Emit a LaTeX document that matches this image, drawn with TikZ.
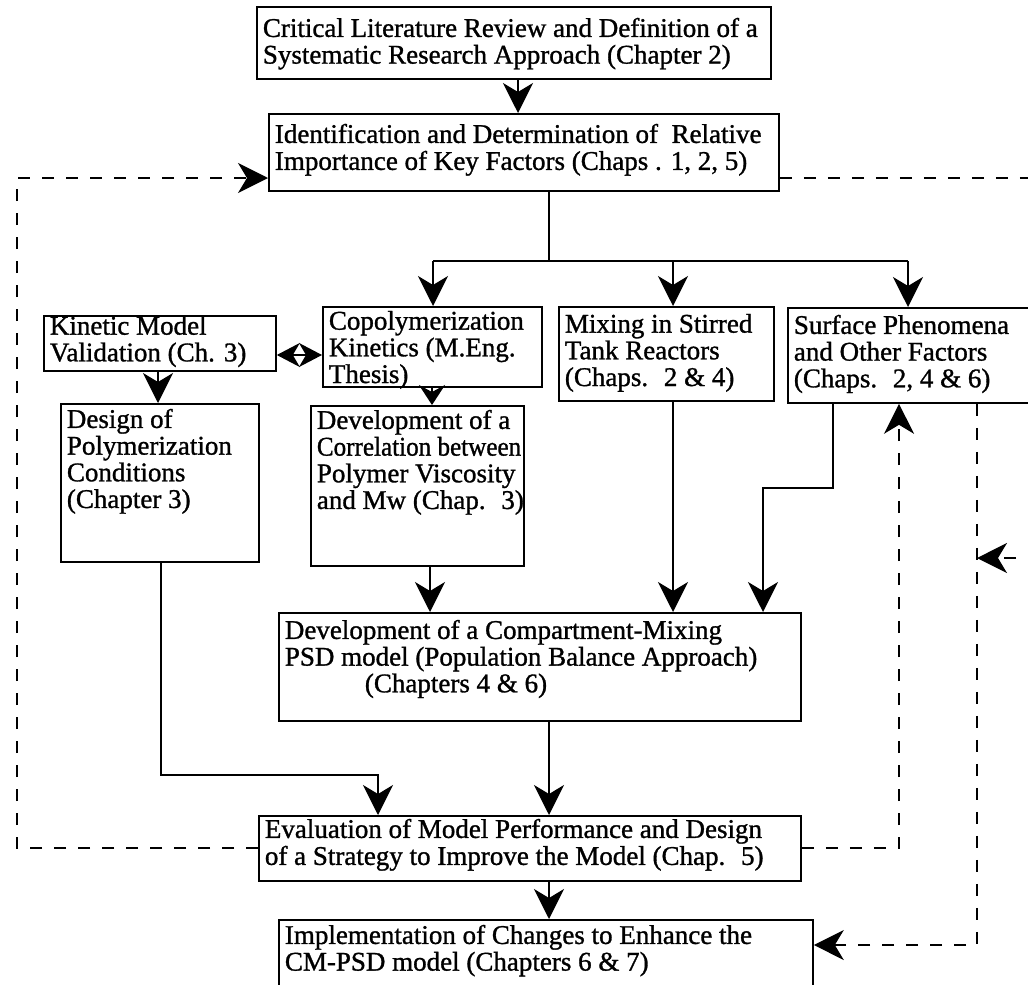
\documentclass[tikz,border=0pt]{standalone}
\usepackage{fontspec}
\usepackage{graphicx}
\setmainfont{Liberation Serif}[FakeBold=1.1]
\usetikzlibrary{arrows.meta}
\newcommand{\bxt}[4][2pt]{\parbox[b][#3][t]{#2}{\vspace*{#1}\noindent\hspace*{6pt}\begin{tabular}[t]{@{}l@{}}#4\end{tabular}}}
\begin{document}
\begin{tikzpicture}[x=1pt,y=-1pt,
  box/.style={draw, line width=1.8pt, inner sep=0pt, anchor=north west, font=\fontsize{27}{26.5}\selectfont},
  conn/.style={line width=1.6pt},
  tip/.style={-{Stealth[length=30pt,width=30pt,inset=9pt]}},
  shorttip/.style={-{Stealth[length=20pt,width=26pt,inset=7pt]}},
  dbl/.style={{Stealth[length=23pt,width=24pt,inset=7pt]}-{Stealth[length=23pt,width=24pt,inset=7pt]}},
  dsh/.style={line width=1.6pt, dash pattern=on 12pt off 12pt}
]
\clip (0,0) rectangle (1028,985);
\fill[white] (0,0) rectangle (1028,985);

\node[box] (A) at (256,6)   {\bxt[11pt]{514pt}{72pt}{Critical Literature Review and Definition of a\\Systematic Research Approach (Chapter 2)}};
\node[box] (B) at (268,113) {\bxt[10pt]{510pt}{77pt}{Identification and Determination of~ Relative\\Importance of Key Factors (Chaps . 1, 2, 5)}};
\node[box] (C) at (43,315)  {\bxt[0pt]{232pt}{55pt}{Kinetic Model\\Validation (Ch. 3)}};
\node[box] (D) at (322,306) {\bxt[4pt]{219pt}{80pt}{Copolymerization\\Kinetics (M.Eng.\\Thesis)}};
\node[box] (E) at (558,306) {\bxt[7pt]{215pt}{94pt}{Mixing in Stirred\\Tank Reactors\\(Chaps.~ 2 \& 4)}};
\node[box] (F) at (787,307) {\bxt[7pt]{260pt}{95pt}{Surface Phenomena\\and Other Factors\\(Chaps.~ 2, 4 \& 6)}};
\node[box] (G) at (60,403)  {\bxt[5pt]{198pt}{158pt}{Design of\\Polymerization\\Conditions\\(Chapter 3)}};
\node[box] (H) at (310,405) {\bxt[4pt]{213pt}{160pt}{Development of a\\\scalebox{0.93}[1]{Correlation between}\\Polymer Viscosity\\and Mw (Chap.~ 3)}};
\node[box] (I) at (278,612) {\bxt[7pt]{522pt}{108pt}{Development of a Compartment-Mixing\\PSD model (Population Balance Approach)\\\hspace*{80pt}(Chapters 4 \& 6)}};
\node[box] (J) at (258,815) {\bxt[3pt]{542pt}{65pt}{Evaluation of Model Performance and Design\\of a Strategy to Improve the Model (Chap.~ 5)}};
\node[box] (K) at (278,919) {\bxt[5pt]{534pt}{90pt}{Implementation of Changes to Enhance the\\CM-PSD model (Chapters 6 \& 7)}};

\coordinate (xa) at (518,0);
\draw[conn,tip] (A.south -| xa) -- (B.north -| xa);
\coordinate (sp) at (549,261);
\coordinate (sl) at (433,261);
\coordinate (sm) at (673,261);
\coordinate (sr) at (908,261);
\draw[conn] (B.south -| sp) -- (sp);
\draw[conn] (sl) -- (sr);
\draw[conn,tip] (sl) -- (D.north -| sl);
\draw[conn,tip] (sm) -- (E.north -| sm);
\draw[conn,tip] (sr) -- (F.north -| sr);
\coordinate (cd) at (0,355);
\draw[conn,dbl] (C.east |- cd) -- (D.west |- cd);
\coordinate (xc) at (158,0);
\draw[conn,tip] (C.south -| xc) -- (G.north -| xc);
\coordinate (xd) at (432,0);
\draw[conn,shorttip] (D.south -| xd) -- (H.north -| xd);
\coordinate (g1) at (161,775);
\coordinate (g2) at (378,775);
\draw[conn,tip] (G.south -| g1) -- (g1) -- (g2) -- (J.north -| g2);
\coordinate (xh) at (430,0);
\draw[conn,tip] (H.south -| xh) -- (I.north -| xh);
\draw[conn,tip] (E.south -| sm) -- (I.north -| sm);
\coordinate (f1) at (833,488);
\coordinate (f2) at (763,488);
\draw[conn,tip] (F.south -| f1) -- (f1) -- (f2) -- (I.north -| f2);
\coordinate (xm) at (549,0);
\draw[conn,tip] (I.south -| xm) -- (J.north -| xm);
\draw[conn,tip] (J.south -| xm) -- (K.north -| xm);

\coordinate (l1) at (17,848);
\coordinate (l2) at (17,178);
\draw[dsh,tip] (J.west |- l1) -- (l1) -- (l2) -- (B.west |- l2);
\coordinate (r0) at (1040,178);
\draw[dsh] (B.east |- r0) -- (r0);
\coordinate (e1) at (899,848);
\draw[dsh,tip] (J.east |- e1) -- (e1) -- (F.south -| e1);
\coordinate (k1) at (977,945);
\draw[dsh,tip] (F.south -| k1) -- (k1) -- (K.east |- k1);
\coordinate (q0) at (1040,558);
\coordinate (q1) at (977,558);
\draw[dsh,tip] (q0) -- (q1);
\end{tikzpicture}
\end{document}
